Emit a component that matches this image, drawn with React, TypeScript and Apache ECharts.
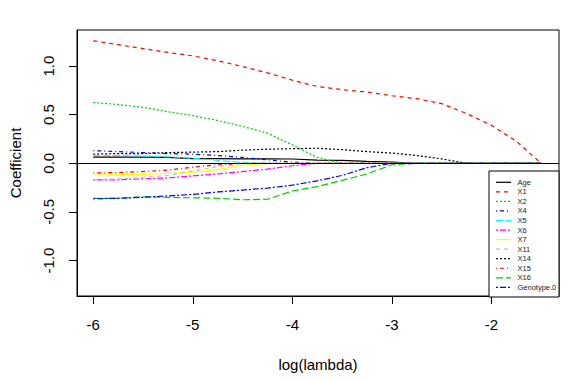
import { useEffect, useRef } from "react";
import * as echarts from "echarts";

const logLambda = [-6, -5.75, -5.5, -5.25, -5, -4.75, -4.5, -4.25, -4, -3.75, -3.5, -3.25, -3, -2.75, -2.5, -2.25, -2, -1.75, -1.5];

const age = [0.063, 0.063, 0.063, 0.06, 0.049, 0.047, 0.046, 0.046, 0.044, 0.033, 0.03, 0.02, 0.012, 0, 0, 0, 0, 0, 0];
const x1 = [1.26, 1.22, 1.18, 1.14, 1.105, 1.055, 0.995, 0.93, 0.855, 0.79, 0.757, 0.733, 0.695, 0.665, 0.614, 0.512, 0.39, 0.227, 0];
const x2 = [0.625, 0.605, 0.575, 0.53, 0.49, 0.44, 0.38, 0.31, 0.19, 0.06, 0, 0, 0, 0, 0, 0, 0, 0, 0];
const x4 = [0.13, 0.12, 0.11, 0.1, 0.094, 0.08, 0.06, 0.035, 0.012, 0, 0, 0, 0, 0, 0, 0, 0, 0, 0];
const x5 = [0.08, 0.08, 0.075, 0.068, 0.052, 0.03, 0.008, 0, 0, 0, 0, 0, 0, 0, 0, 0, 0, 0, 0];
const x6 = [-0.17, -0.17, -0.16, -0.15, -0.13, -0.11, -0.085, -0.06, -0.025, 0, 0, 0, 0, 0, 0, 0, 0, 0, 0];
const x7 = [-0.11, -0.115, -0.115, -0.105, -0.09, -0.065, -0.02, 0, 0, 0, 0, 0, 0, 0, 0, 0, 0, 0, 0];
const x11 = [-0.17, -0.16, -0.145, -0.125, -0.08, -0.035, 0, 0, 0, 0, 0, 0, 0, 0, 0, 0, 0, 0, 0];
const x14 = [0.095, 0.1, 0.1, 0.11, 0.115, 0.12, 0.135, 0.145, 0.15, 0.155, 0.14, 0.12, 0.105, 0.08, 0.045, 0, 0, 0, 0];
const x15 = [-0.1, -0.095, -0.085, -0.07, -0.04, -0.015, 0, 0, 0, 0, 0, 0, 0, 0, 0, 0, 0, 0, 0];
const x16 = [-0.36, -0.36, -0.345, -0.35, -0.355, -0.36, -0.375, -0.37, -0.285, -0.24, -0.175, -0.11, -0.015, 0, 0, 0, 0, 0, 0];
const genotype0 = [-0.365, -0.36, -0.35, -0.335, -0.32, -0.295, -0.275, -0.255, -0.225, -0.18, -0.125, -0.045, 0, 0, 0, 0, 0, 0, 0];

const seriesNames = ["Age", "X1", "X2", "X4", "X5", "X6", "X7", "X11", "X14", "X15", "X16", "Genotype.0"];
const seriesValues = [age, x1, x2, x4, x5, x6, x7, x11, x14, x15, x16, genotype0];

const xTicks = [-6, -5, -4, -3, -2];
const yTicks = [-1, -0.5, 0, 0.5, 1];

// R palette and line types (style, not data)
const colors = ["#000000", "#FF0000", "#00CD00", "#0000FF", "#00FFFF", "#FF00FF", "#FFFF00", "#BEBEBE", "#000000", "#FF0000", "#00CD00", "#0000FF"];
const ltyDash: (number[] | null)[] = [null, [4, 4], [2, 2], [1, 3, 4, 3], [7, 3], [2, 2, 6, 2]];

const FONT = "'Liberation Sans', Arial, Helvetica, sans-serif";

export default function App() {
  const ref = useRef<HTMLDivElement>(null);
  useEffect(() => {
    document.body.style.margin = "0";
    if (!ref.current) return;
    const chart = echarts.init(ref.current, undefined, { renderer: "svg" });

    const series: any[] = seriesNames.map((name, i) => {
      const dash = ltyDash[i % 6];
      const s: any = {
        name,
        type: "line",
        data: logLambda.map((x, j) => [x, seriesValues[i][j]]),
        showSymbol: false,
        symbol: "none",
        lineStyle: { color: colors[i], width: 1.2, type: dash ? dash : "solid" },
        itemStyle: { color: colors[i] },
        silent: true,
      };
      if (i === 0) {
        s.markLine = {
          silent: true,
          symbol: "none",
          label: { show: false },
          lineStyle: { color: "#000", width: 1, type: "solid" },
          data: [{ yAxis: 0 }],
        };
      }
      return s;
    });

    const legendLeft = 489;
    const legendTop = 171;
    const legendW = 70;
    const legendH = 126;
    const graphicEls: any[] = [
      {
        type: "rect",
        shape: { x: legendLeft, y: legendTop, width: legendW, height: legendH },
        style: { fill: "#fff", stroke: "#000", lineWidth: 1 },
        z: 100,
      },
    ];
    seriesNames.forEach((name, i) => {
      const y = 182.3 + i * 9.55;
      const dash = ltyDash[i % 6];
      graphicEls.push({
        type: "line",
        shape: { x1: 496, y1: y, x2: 511, y2: y },
        style: { stroke: colors[i], lineWidth: 1.2, lineDash: dash ? dash : null },
        z: 101,
      });
      graphicEls.push({
        type: "text",
        x: 517.5,
        y: y,
        style: { text: name, fill: "#222", font: `7.5px ${FONT}`, verticalAlign: "middle", align: "left" },
        z: 101,
      });
    });

    chart.setOption({
      animation: false,
      backgroundColor: "#fff",
      textStyle: { fontFamily: FONT },
      grid: { left: 76, right: 26, top: 30, bottom: 85, show: true, borderColor: "#000", borderWidth: 1, backgroundColor: "transparent" },
      xAxis: {
        type: "value",
        min: -6.163,
        max: -1.321,
        name: "log(lambda)",
        nameLocation: "middle",
        nameGap: 61,
        nameTextStyle: { color: "#000", fontSize: 15, fontFamily: FONT },
        axisLine: { show: true, onZero: false, lineStyle: { color: "#000", width: 1 } },
        axisTick: { show: true, inside: false, customValues: xTicks, length: 8, lineStyle: { color: "#000", width: 1 } },
        axisLabel: { customValues: xTicks, color: "#000", fontSize: 15, fontFamily: FONT, margin: 21, formatter: (v: number) => String(v) },
        splitLine: { show: false },
      },
      yAxis: {
        type: "value",
        min: -1.365,
        max: 1.371,
        name: "Coefficient",
        nameLocation: "middle",
        nameGap: 54,
        nameRotate: 90,
        nameTextStyle: { color: "#000", fontSize: 15, fontFamily: FONT },
        axisLine: { show: true, onZero: false, lineStyle: { color: "#000", width: 1 } },
        axisTick: { show: true, inside: false, customValues: yTicks, length: 8, lineStyle: { color: "#000", width: 1 } },
        axisLabel: { customValues: yTicks, color: "#000", fontSize: 15, fontFamily: FONT, margin: 21, rotate: 90, formatter: (v: number) => v.toFixed(1) },
        splitLine: { show: false },
      },
      series,
      graphic: graphicEls,
    });
    return () => chart.dispose();
  }, []);
  return <div ref={ref} style={{ width: 585, height: 381 }} />;
}
